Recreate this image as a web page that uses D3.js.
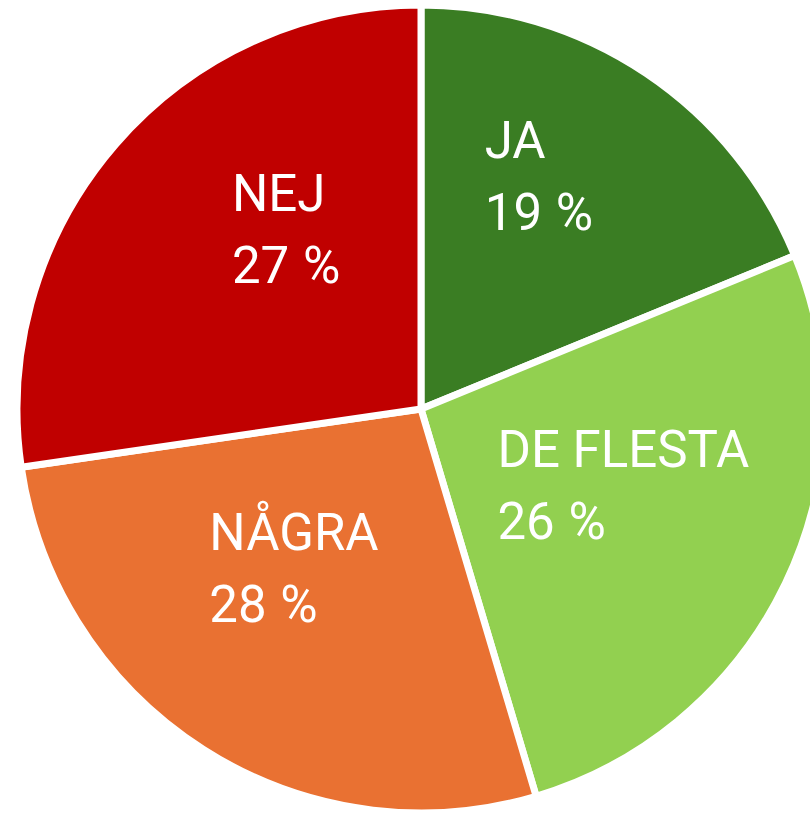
<!DOCTYPE html>
<html>
<head>
<meta charset="utf-8">
<script src="https://cdn.jsdelivr.net/npm/d3@7"></script>
<style>
  html, body { margin: 0; padding: 0; background: #ffffff; }
  svg { display: block; }
</style>
</head>
<body>
<svg id="chart" width="810" height="815"></svg>
<script>
const categories = ["JA", "DE FLESTA", "NÅGRA", "NEJ"];
// slice shares as measured from the slice angles in the picture
const values = [18.8, 26.6, 27.3, 27.3];
const valueLabels = ["19 %", "26 %", "28 %", "27 %"];
const colors = ["#3a7d23", "#92d050", "#e97132", "#c00000"];

// layout (not data)
const W = 810, H = 815;
const cx = 421, cy = 409, R = 404;
const labelOffsets = [[-60, -66], [-124, -38], [-92, -46], [-21, -53]];
const lineGap = 72;

const svg = d3.select("#chart");
const g = svg.append("g").attr("transform", `translate(${cx},${cy})`);

const data = categories.map((c, i) => ({ cat: c, value: values[i], label: valueLabels[i], color: colors[i], i }));

const pie = d3.pie().value(d => d.value).sort(null).startAngle(0).endAngle(2 * Math.PI);
const arc = d3.arc().innerRadius(0).outerRadius(R);
const labelArc = d3.arc().innerRadius(R * 0.55).outerRadius(R * 0.55);

const arcs = pie(data);

g.selectAll("path.slice")
  .data(arcs)
  .join("path")
  .attr("class", "slice")
  .attr("d", arc)
  .attr("fill", d => d.data.color)
  .attr("stroke", "#ffffff")
  .attr("stroke-width", 7)
  .attr("stroke-linejoin", "round");

const labels = g.selectAll("text.lbl")
  .data(arcs)
  .join("text")
  .attr("class", "lbl")
  .attr("font-family", "Roboto, 'Noto Sans', sans-serif")
  .attr("font-size", 51)
  .attr("fill", "#ffffff")
  .attr("text-anchor", "start")
  .attr("transform", d => {
    const [x, y] = labelArc.centroid(d);
    const off = labelOffsets[d.data.i];
    return `translate(${x + off[0]},${y + off[1]})`;
  });

labels.append("tspan").attr("x", 0).attr("y", 0).text(d => d.data.cat);
labels.append("tspan").attr("x", 0).attr("y", lineGap)
  .attr("word-spacing", 1)
  .text(d => d.data.label);
</script>
</body>
</html>
